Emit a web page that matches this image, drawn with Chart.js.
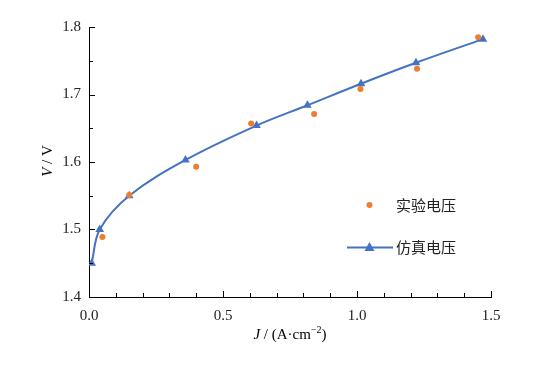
<!DOCTYPE html>
<html>
<head>
<meta charset="utf-8">
<script src="https://cdn.jsdelivr.net/npm/chart.js@4.4.1/dist/chart.umd.min.js"></script>
<style>
  html, body { margin: 0; padding: 0; background: #fff; }
  #wrap { width: 538px; height: 365px; }
</style>
</head>
<body>
<div id="wrap"><canvas id="c" width="538" height="365"></canvas></div>
<script>
// current density J (A/cm2) and voltage V
const expJ = [0.05, 0.15, 0.40, 0.605, 0.84, 1.013, 1.224, 1.452];
const expV = [1.489, 1.551, 1.593, 1.657, 1.671, 1.708, 1.738, 1.785];
const simJ = [0.01, 0.04, 0.15, 0.36, 0.625, 0.815, 1.015, 1.22, 1.47];
const simV = [1.45, 1.50, 1.55, 1.603, 1.654, 1.684, 1.716, 1.747, 1.782];
const xTicks = [0.0, 0.5, 1.0, 1.5];
const yTicks = [1.4, 1.5, 1.6, 1.7, 1.8];
const seriesNames = ['实验电压', '仿真电压'];

const ORANGE = '#ED7D31';
const BLUE = '#4472C4';
const SERIF = '"Liberation Serif", "Times New Roman", serif';
const CJK = '"Noto Sans CJK SC", sans-serif';

// ticks drawn inside the plot, plus axis titles and the legend
const decor = {
    id: 'decor',
    afterDraw(chart) {
        const ctx = chart.ctx;
        const xs = chart.scales.x, ys = chart.scales.y;
        const a = chart.chartArea;
        ctx.save();
        ctx.strokeStyle = '#000';
        ctx.lineWidth = 1;
        for (let v = 0; v <= 15; v++) {
            const px = Math.round(xs.getPixelForValue(v / 10)) + 0.5;
            const len = v % 5 === 0 ? 6 : 4;
            ctx.beginPath(); ctx.moveTo(px, a.bottom); ctx.lineTo(px, a.bottom - len); ctx.stroke();
        }
        for (let v = 0; v <= 8; v++) {
            const py = Math.round(ys.getPixelForValue(1.4 + v * 0.05)) + 0.5;
            const len = v % 2 === 0 ? 6 : 4;
            ctx.beginPath(); ctx.moveTo(a.left, py); ctx.lineTo(a.left + len, py); ctx.stroke();
        }

        // y title: V / V (rotated)
        ctx.fillStyle = '#000';
        ctx.textBaseline = 'middle';
        ctx.save();
        ctx.translate(48, 161);
        ctx.rotate(-Math.PI / 2);
        ctx.textAlign = 'left';
        ctx.font = 'italic 15px ' + SERIF;
        const w1 = ctx.measureText('V').width;
        ctx.font = '15px ' + SERIF;
        const rest = ' / V';
        const w2 = ctx.measureText(rest).width;
        const sx = -(w1 + w2) / 2;
        ctx.font = 'italic 15px ' + SERIF;
        ctx.fillText('V', sx, 0);
        ctx.font = '15px ' + SERIF;
        ctx.fillText(rest, sx + w1, 0);
        ctx.restore();

        // x title: J / (A·cm-2)
        const parts = [
            ['J', 'italic 15px ' + SERIF, 0],
            [' / (A\u00b7cm', '15px ' + SERIF, 0],
            ['\u22122', '10px ' + SERIF, -5],
            [')', '15px ' + SERIF, 0]
        ];
        let tw = 0;
        parts.forEach(p => { ctx.font = p[1]; tw += ctx.measureText(p[0]).width; });
        let cx = 290 - tw / 2;
        ctx.textAlign = 'left';
        parts.forEach(p => {
            ctx.font = p[1];
            ctx.fillText(p[0], cx, 335 + p[2]);
            cx += ctx.measureText(p[0]).width;
        });

        // legend
        ctx.font = '15px ' + CJK;
        ctx.fillStyle = ORANGE;
        ctx.beginPath(); ctx.arc(369.5, 205, 3, 0, Math.PI * 2); ctx.fill();
        ctx.fillStyle = '#222';
        ctx.fillText(seriesNames[0], 396, 205);

        ctx.strokeStyle = BLUE;
        ctx.lineWidth = 2;
        ctx.beginPath(); ctx.moveTo(347, 247.5); ctx.lineTo(393, 247.5); ctx.stroke();
        ctx.fillStyle = BLUE;
        ctx.beginPath(); ctx.moveTo(369.5, 242); ctx.lineTo(374.5, 251); ctx.lineTo(364.5, 251); ctx.closePath(); ctx.fill();
        ctx.fillStyle = '#222';
        ctx.fillText(seriesNames[1], 396, 247);
        ctx.restore();
    }
};

new Chart(document.getElementById('c'), {
    type: 'scatter',
    data: {
        datasets: [
            {
                label: seriesNames[1],
                data: simJ.map((j, i) => ({ x: j, y: simV[i] })),
                showLine: true,
                borderColor: BLUE,
                backgroundColor: BLUE,
                borderWidth: 2,
                tension: 0.35,
                pointStyle: 'triangle',
                pointRadius: 5,
                pointBorderWidth: 0,
                order: 2
            },
            {
                label: seriesNames[0],
                data: expJ.map((j, i) => ({ x: j, y: expV[i] })),
                backgroundColor: ORANGE,
                borderColor: ORANGE,
                pointRadius: 3,
                pointBorderWidth: 0,
                order: 1
            }
        ]
    },
    options: {
        responsive: false,
        animation: false,
        layout: { padding: { top: 27, right: 47, left: 0, bottom: 0 } },
        plugins: { legend: { display: false }, tooltip: { enabled: false } },
        scales: {
            x: {
                type: 'linear', min: 0, max: 1.5,
                afterBuildTicks: s => { s.ticks = xTicks.map(v => ({ value: v })); },
                afterFit: s => { s.height = 68; },
                grid: { display: false, drawTicks: false },
                border: { display: true, color: '#000', width: 1 },
                ticks: { padding: 10, color: '#222', font: { family: SERIF, size: 15 }, callback: v => v.toFixed(1), maxRotation: 0 }
            },
            y: {
                type: 'linear', min: 1.4, max: 1.8,
                afterBuildTicks: s => { s.ticks = yTicks.map(v => ({ value: v })); },
                afterFit: s => { s.width = 89; },
                grid: { display: false, drawTicks: false },
                border: { display: true, color: '#000', width: 1 },
                ticks: { padding: 8, color: '#222', font: { family: SERIF, size: 15 }, callback: v => v.toFixed(1) }
            }
        }
    },
    plugins: [decor]
});
</script>
</body>
</html>
